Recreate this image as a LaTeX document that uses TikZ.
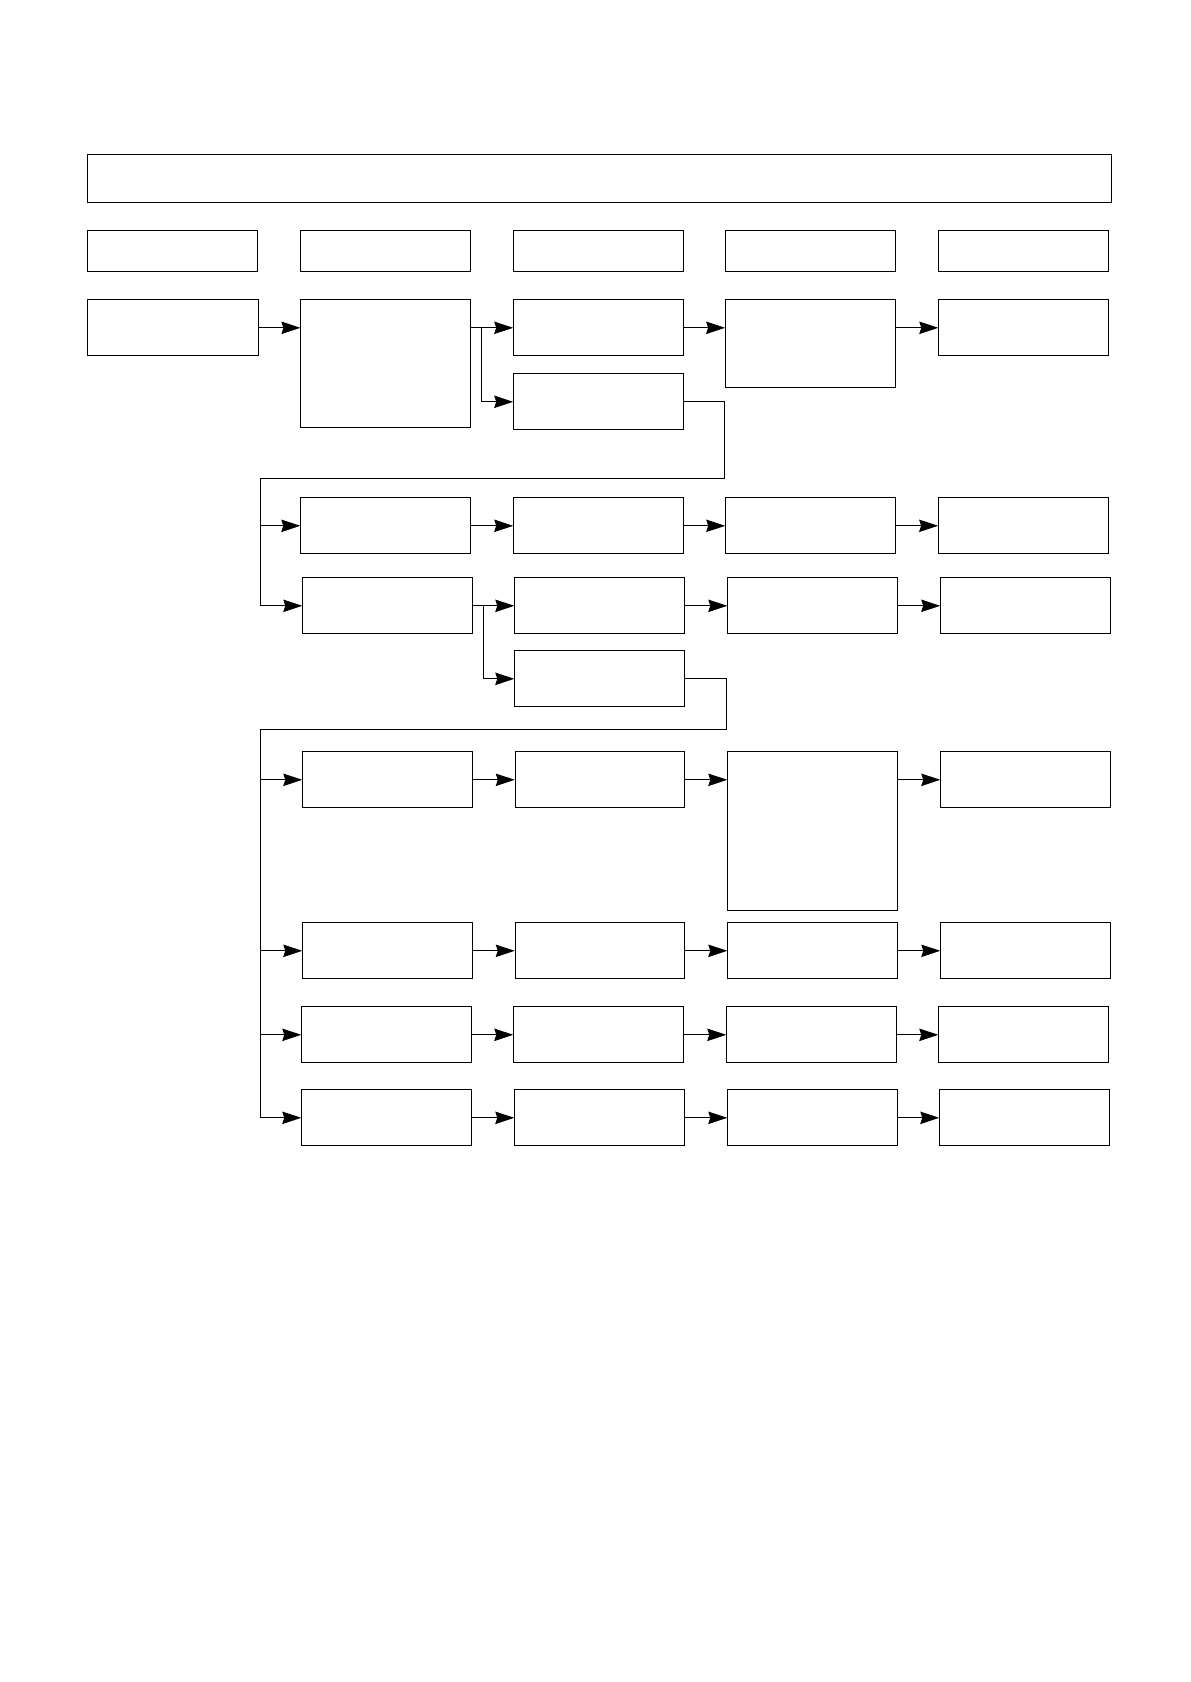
\documentclass[tikz,border=0pt]{standalone}
\usepackage{tikz}
\usetikzlibrary{arrows.meta,calc}

\begin{document}
\begin{tikzpicture}[x=0.5pt,y=-0.5pt,
    blk/.style={draw,line width=0.5pt,anchor=north west,inner sep=0pt,
      minimum width=84.75pt,minimum height=28pt},
    hdr/.style={blk,minimum height=20.5pt},
    ln/.style={line width=0.5pt},
    arr/.style={ln,-{Stealth[length=9.5pt,width=6.2pt,inset=1pt]}}]
\useasboundingbox (0,0) rectangle (1190,1682);
% Title bar
\node[blk,minimum width=511.75pt,minimum height=24pt] (title) at (87.3,154.3) {};
% Column heads
\node[hdr] (h1) at (87.3,230.3) {};
\node[hdr] (h2) at (300.4,230.3) {};
\node[hdr] (h3) at (513.2,230.3) {};
\node[hdr] (h4) at (725.1,230.3) {};
\node[hdr] (h5) at (938.3,230.3) {};
% First stage
\node[blk,minimum width=85.2pt] (a1) at (87.3,299.3) {};
\node[blk,minimum height=64pt] (a2) at (300.4,299.3) {};
\node[blk] (a3) at (513.2,299.3) {};
\node[blk] (a3b) at (513.2,373.3) {};
\node[blk,minimum height=44pt] (a4) at (725.1,299.3) {};
\node[blk] (a5) at (938.3,299.3) {};
% Second stage
\node[blk] (b2) at (300.3,497.3) {};
\node[blk] (b3) at (513.2,497.3) {};
\node[blk] (b4) at (725.2,497.3) {};
\node[blk] (b5) at (938.1,497.3) {};
\node[blk] (c2) at (302.3,577.3) {};
\node[blk] (c3) at (514.3,577.3) {};
\node[blk] (c3b) at (514.3,650.3) {};
\node[blk] (c4) at (727.3,577.3) {};
\node[blk] (c5) at (940.2,577.3) {};
% Third stage
\node[blk] (d2) at (302.3,751.3) {};
\node[blk] (d3) at (514.8,751.3) {};
\node[blk,minimum height=79.5pt] (d4) at (727.3,751.3) {};
\node[blk] (d5) at (940.3,751.3) {};
\node[blk] (e2) at (302.3,922.3) {};
\node[blk] (e3) at (514.8,922.3) {};
\node[blk] (e4) at (727.3,922.3) {};
\node[blk] (e5) at (940.3,922.3) {};
\node[blk] (f2) at (301.3,1006.3) {};
\node[blk] (f3) at (513.3,1006.3) {};
\node[blk] (f4) at (726.3,1006.3) {};
\node[blk] (f5) at (938.3,1006.3) {};
\node[blk,minimum width=85pt] (g2) at (301.3,1089.3) {};
\node[blk] (g3) at (514.3,1089.3) {};
\node[blk] (g4) at (727.3,1089.3) {};
\node[blk] (g5) at (939.3,1089.3) {};
% First stage arrows
\draw[arr] (a1.east) -- (a1.east -| a2.west);
\draw[arr] (a2.east |- a3.west) -- (a3.west);
\coordinate (sA) at ($(a2.east |- a3.west)+(11,0)$);
\draw[arr] (sA) |- (a3b.west);
\draw[arr] (a3.east) -- (a3.east -| a4.west);
\draw[arr] (a4.east |- a5.west) -- (a5.west);
% Loop back to second stage
\coordinate (kA) at (724.4,478.3);
\coordinate (busA) at (260.3,478.3);
\draw[ln] (a3b.east) -| (kA) -- (busA);
\draw[arr] (busA) |- (c2.west);
\draw[arr] (busA |- b2.west) -- (b2.west);
% Second stage arrows
\draw[arr] (b2.east) -- (b3.west);
\draw[arr] (b3.east) -- (b4.west);
\draw[arr] (b4.east) -- (b5.west);
\draw[arr] (c2.east) -- (c3.west);
\coordinate (sC) at ($(c2.east)+(11,0)$);
\draw[arr] (sC) |- (c3b.west);
\draw[arr] (c3.east) -- (c4.west);
\draw[arr] (c4.east) -- (c5.west);
% Loop back to third stage
\coordinate (kC) at (726.3,729.3);
\coordinate (busC) at (260.3,729.3);
\draw[ln] (c3b.east) -| (kC) -- (busC);
\draw[arr] (busC) |- (g2.west);
\draw[arr] (busC |- d2.west) -- (d2.west);
\draw[arr] (busC |- e2.west) -- (e2.west);
\draw[arr] (busC |- f2.west) -- (f2.west);
% Third stage arrows
\draw[arr] (d2.east) -- (d3.west);
\draw[arr] (d3.east) -- (d3.east -| d4.west);
\draw[arr] (d4.east |- d5.west) -- (d5.west);
\draw[arr] (e2.east) -- (e3.west);
\draw[arr] (e3.east) -- (e4.west);
\draw[arr] (e4.east) -- (e5.west);
\draw[arr] (f2.east) -- (f3.west);
\draw[arr] (f3.east) -- (f4.west);
\draw[arr] (f4.east) -- (f5.west);
\draw[arr] (g2.east) -- (g3.west);
\draw[arr] (g3.east) -- (g4.west);
\draw[arr] (g4.east) -- (g5.west);
\end{tikzpicture}
\end{document}
